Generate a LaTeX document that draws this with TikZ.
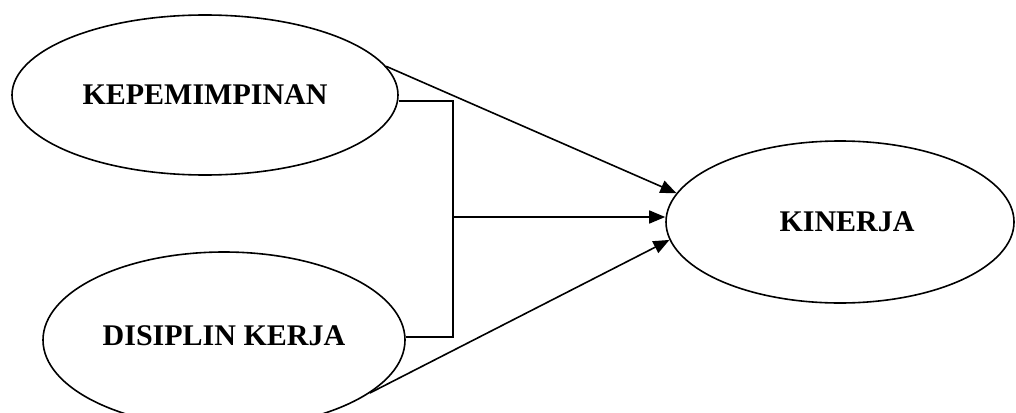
\documentclass[tikz,border=0pt]{standalone}
\usepackage{fontspec}
\setmainfont{Liberation Serif}
\usetikzlibrary{shapes.geometric,arrows.meta}
\begin{document}
\begin{tikzpicture}[x=1pt,y=-1pt,
  oval/.style={draw=black,line width=1.6pt,ellipse,inner sep=0pt,
    font=\fontsize{30}{36}\selectfont\bfseries},
  conn/.style={draw=black,line width=1.6pt},
  arr/.style={conn,-{Triangle[length=16pt,width=13pt]}}]
\clip (0,0) rectangle (1016,412);
\useasboundingbox (0,0) rectangle (1016,412);
\node[oval,minimum width=386pt,minimum height=160pt] (k) at (205,95) {\raisebox{-1pt}{KEPEMIMPINAN}};
\node[oval,minimum width=362pt,minimum height=176pt] (d) at (224,340) {\raisebox{9pt}{DISIPLIN KERJA}};
\node[oval,minimum width=348pt,minimum height=162pt] (kin) at (840,222) {\hspace*{14pt}\raisebox{-8pt}{KINERJA}};
\coordinate (jt) at (453,101);
\coordinate (jb) at (453,337);
\coordinate (jm) at (453,217);
\draw[conn] (k.east |- jt) -- (jt) -- (jb) -- (d.east |- jb);
\draw[arr] (jm) -- (jm -| kin.west);
\draw[arr] (k.9) -- (kin.170);
\draw[arr] (d.-20) -- (kin.186);
\end{tikzpicture}
\end{document}
